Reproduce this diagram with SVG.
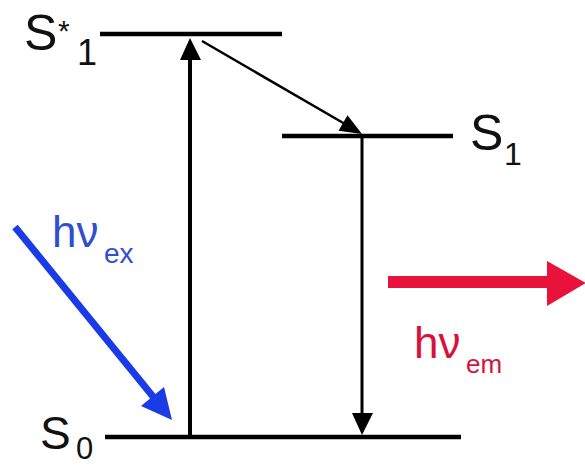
<svg xmlns="http://www.w3.org/2000/svg" width="585" height="466" viewBox="0 0 585 466">
<style>
.lvl{stroke:#000;stroke-width:4.5;fill:none}
.lbl{font-family:"Liberation Sans",Arial,sans-serif;fill:#111}
.blue{fill:#2f4fd0;font-family:"Liberation Sans",Arial,sans-serif}
.red{fill:#d8123c;font-family:"Liberation Sans",Arial,sans-serif}
</style>
<rect width="585" height="466" fill="#fff"/>
<g id="S1star">
<line class="lvl" x1="100" y1="34" x2="282" y2="34"/>
<text class="lbl" x="24" y="50" font-size="50">S<tspan font-size="30" x="58" y="41">*</tspan><tspan font-size="36" x="77" y="65">1</tspan></text>
</g>
<g id="S1">
<line class="lvl" x1="282" y1="136" x2="453" y2="136"/>
<text class="lbl" x="470" y="150" font-size="50">S<tspan font-size="32" x="504" y="165">1</tspan></text>
</g>
<g id="S0">
<line class="lvl" x1="105" y1="437" x2="461" y2="437"/>
<text class="lbl" x="40" y="449" font-size="46">S<tspan font-size="31" x="76" y="459">0</tspan></text>
</g>
<g id="hvex">
<text class="blue" x="52" y="247" font-size="44">hν<tspan font-size="28" x="104" y="263">ex</tspan></text>
</g>
<g id="hvem">
<text class="red" x="414" y="358" font-size="44">hν<tspan font-size="26" x="466" y="373">em</tspan></text>
</g>
<g id="connectors">
<line x1="190" y1="437" x2="190" y2="58" stroke="#000" stroke-width="4"/>
<polygon points="190,38 180,60 201,60" fill="#000"/>
<line x1="202" y1="41" x2="345" y2="124" stroke="#000" stroke-width="2.5"/>
<polygon points="362,134 338.5,130.8 347.5,115.2" fill="#000"/>
<line x1="362" y1="136" x2="362" y2="415" stroke="#000" stroke-width="3"/>
<polygon points="362,435 352,413 373,413" fill="#000"/>
<line x1="15" y1="227" x2="155" y2="399" stroke="#1a3be6" stroke-width="7"/>
<polygon points="172,420 141,406 164,387" fill="#1a3be6"/>
<line x1="388" y1="282" x2="549" y2="282" stroke="#e8123a" stroke-width="12"/>
<polygon points="586,283 547,261 547,306" fill="#e8123a"/>
</g>
</svg>
